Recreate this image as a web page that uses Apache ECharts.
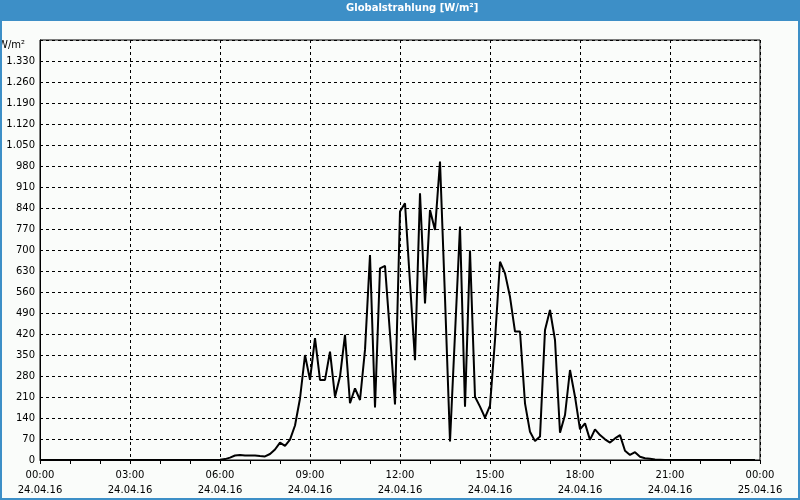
<!DOCTYPE html>
<html>
<head>
<meta charset="utf-8">
<script src="https://cdn.jsdelivr.net/npm/echarts@6/dist/echarts.min.js"></script>
<style>html,body{margin:0;padding:0;}#c{width:800px;height:500px;}</style>
</head>
<body>
<div id="c"></div>
<script>
// Globalstrahlung 24.04.16, 10-minute values (W/m²), from 00:00 to 23:50
const stepMinutes = 10;
const values = [
  0,0,0,0,0,0,0,0,0,0,0,0,0,0,0,0,0,0,0,0,0,0,0,0,0,0,0,0,0,0,0,0,0,0,0,0,
  1,3,8,15,17,15,15,15,13,12,20,35,58,47,68,115,205,350,267,406,
  267,267,361,211,278,417,189,239,200,367,683,175,639,647,420,185,828,856,590,333,
  889,522,833,767,995,540,62,420,778,178,698,211,178,141,181,400,661,622,544,428,
  428,189,94,63,78,433,500,400,91,150,300,211,102,122,67,102,83,69,58,72,
  83,31,17,26,11,6,4,2,1,
  0,0,0,0,0,0,0,0,0,0,0,0,0,0,0,0,0,0,0
];
const xTickTimes = ['00:00','03:00','06:00','09:00','12:00','15:00','18:00','21:00','00:00'];
const xTickDates = ['24.04.16','24.04.16','24.04.16','24.04.16','24.04.16','24.04.16','24.04.16','24.04.16','25.04.16'];
const yUnit = 'W/m²';
const titleText = 'Globalstrahlung [W/m²]';

const seriesData = values.map((v, i) => [i * stepMinutes, v]);

function fmtY(v) {
  if (v >= 1400) return '';
  if (v >= 1000) return Math.floor(v / 1000) + '.' + String(v % 1000).padStart(3, '0');
  return String(v);
}

const font = 'DejaVu Sans';
const chart = echarts.init(document.getElementById('c'), null, {renderer: 'canvas'});
chart.setOption({
  backgroundColor: '#fafcfa',
  animation: false,
  title: {
    text: titleText,
    left: 346, top: 3, padding: 0,
    textStyle: {color: '#ffffff', fontFamily: font, fontSize: 10, fontWeight: 'bold'}
  },
  graphic: [
    {type: 'rect', z: -1, shape: {x: 0, y: 0, width: 800, height: 21}, style: {fill: '#3d8fc7'}},
    {type: 'rect', z: 100, shape: {x: 1, y: 1, width: 798, height: 498}, style: {fill: 'none', stroke: '#3d8fc7', lineWidth: 2}}
  ],
  grid: {left: 40, right: 40, top: 40, bottom: 40, outerBoundsMode: 'none', containLabel: false,
         show: true, borderColor: '#000', borderWidth: 1, backgroundColor: 'transparent'},
  xAxis: {
    type: 'value', min: 0, max: 1440, interval: 180,
    axisLine: {lineStyle: {color: '#000', width: 1}},
    axisTick: {show: true, length: 4, lineStyle: {color: '#000'}},
    minorTick: {show: true, splitNumber: 3, length: 4, lineStyle: {color: '#000'}},
    splitLine: {show: true, lineStyle: {color: '#000', type: [3, 3], width: 1}},
    axisLabel: {
      margin: 8, color: '#000', fontFamily: font, fontSize: 10, lineHeight: 15,
      formatter: v => { const k = Math.round(v / 180); return xTickTimes[k] + '\n' + xTickDates[k]; }
    }
  },
  yAxis: {
    type: 'value', min: 0, max: 1400, interval: 70,
    name: yUnit, nameLocation: 'end', nameGap: -5,
    nameTextStyle: {color: '#000', fontFamily: font, fontSize: 10, align: 'right', verticalAlign: 'middle', padding: [0, 15, 0, 0]},
    axisLine: {show: true, lineStyle: {color: '#000'}},
    axisTick: {show: false},
    splitLine: {show: true, lineStyle: {color: '#000', type: [3, 3], width: 1}},
    axisLabel: {margin: 5, color: '#000', fontFamily: font, fontSize: 10, formatter: fmtY}
  },
  series: [{
    type: 'line', data: seriesData, showSymbol: false, symbol: 'none',
    lineStyle: {color: '#000', width: 2}, clip: true
  }]
});
</script>
</body>
</html>
